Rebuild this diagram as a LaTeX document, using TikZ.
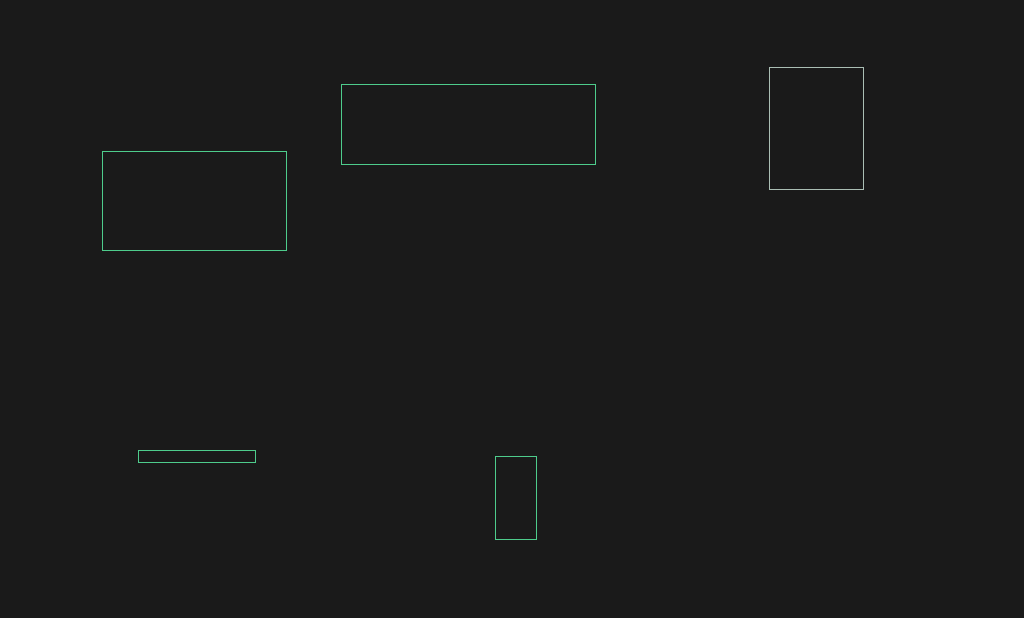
\documentclass[tikz,border=0pt]{standalone}
\usepackage{xcolor}
\definecolor{bgdark}{RGB}{26,26,26}
\definecolor{boxgreen}{RGB}{78,204,140}
\definecolor{boxgrey}{RGB}{170,190,180}
\tikzset{every picture/.style={line width=0.75pt}}
\tikzset{
  framebox/.style={draw=boxgreen, line width=0.75pt, inner sep=0pt, outer sep=0pt},
  greybox/.style={framebox, draw=boxgrey}
}
\begin{document}
\begin{tikzpicture}[x=0.75pt,y=0.75pt,yscale=-1,xscale=1]
    % background
    \fill[bgdark] (0,0) rectangle (1024,618);
    \useasboundingbox (0,0) rectangle (1024,618);
    
    % Boxes
    \node (leftbox) [framebox, minimum width=138pt, minimum height=74.25pt] at (194,200.5) {};
    \node (topbox) [framebox, minimum width=190.5pt, minimum height=60pt] at (468,124) {};
    \node (rightbox) [greybox, minimum width=70.5pt, minimum height=91.5pt] at (816,128) {};
    \node (barbox) [framebox, minimum width=87.75pt, minimum height=9pt] at (196.5,456) {};
    \node (tallbox) [framebox, minimum width=30.75pt, minimum height=62.25pt] at (515.5,497.5) {};
    
\end{tikzpicture}
\end{document}
